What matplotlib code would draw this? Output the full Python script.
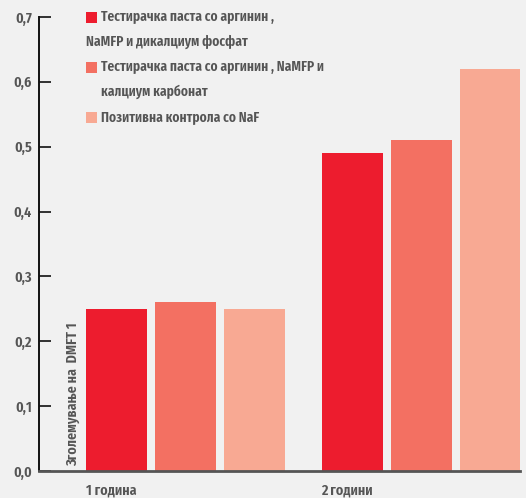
import matplotlib
matplotlib.use("Agg")
import matplotlib.pyplot as plt
from matplotlib.patches import Rectangle
import matplotlib.transforms as mtransforms
import numpy as np

categories = ["1 година", "2 години"]
series_labels = [
    "Тестирачка паста со аргинин ,\nNaMFP и дикалциум фосфат",
    "Тестирачка паста со аргинин , NaMFP и\nкалциум карбонат",
    "Позитивна контрола со NaF",
]
values = [
    [0.25, 0.49],
    [0.26, 0.51],
    [0.25, 0.62],
]
colors = ["#ED1C2E", "#F37062", "#F8A993"]
yticks = [0.0, 0.1, 0.2, 0.3, 0.4, 0.5, 0.6, 0.7]
ytick_labels = ["0,0", "0,1", "0,2", "0,3", "0,4", "0,5", "0,6", "0,7"]
ylabel = "Зголемување на  DMFT 1"

bg = "#F1F1F1"
tc = "#555555"
FONT = dict(family=["Fira Sans Extra Condensed", "DejaVu Sans"], weight=600)
FS = 11
LFS = 10.5

fig = plt.figure(figsize=(5.26, 4.98), dpi=100, facecolor=bg)
ax = fig.add_axes([39/526, 1-471/498, (520-39)/526, (471-17)/498])
ax.set_facecolor(bg)

x = np.arange(len(categories))
width = 61/235.5
step = 69/235.5
for i, (vals, c) in enumerate(zip(values, colors)):
    ax.bar(x + (i-1)*step, vals, width=width, color=c, zorder=2)

ax.set_xlim(-(185.5-39)/235.5, (520-185.5)/235.5)
ax.set_ylim(0, 0.7)
ax.set_yticks(yticks)
ax.set_yticklabels(ytick_labels, color=tc, fontsize=FS, **FONT)
ax.tick_params(axis="y", direction="in", length=8.5, width=1.3, color="#222222", pad=5)
ax.set_xticks([])
for s in ["top", "right"]:
    ax.spines[s].set_visible(False)
ax.spines["left"].set_color("#111111")
ax.spines["left"].set_linewidth(1.4)
ax.spines["bottom"].set_color("#555555")
ax.spines["bottom"].set_linewidth(2)
ax.spines["bottom"].set_zorder(3)

trans = mtransforms.blended_transform_factory(ax.transData, fig.transFigure)
for xi, cat in zip(x, categories):
    ax.text(xi - step - width/2, 1-490/498, cat, transform=trans, ha="left", va="center",
            color=tc, fontsize=FS, **FONT)

ax.text(73/526, 1-466/498, ylabel, transform=fig.transFigure, rotation=90,
        ha="center", va="bottom", color=tc, fontsize=FS, **FONT)

lx, tx = 86/526, 101/526
lines_y = [17, 42, 67, 92, 117]
row = 0
for lab, c in zip(series_labels, colors):
    parts = lab.split("\n")
    y0 = lines_y[row]
    fig.patches.append(Rectangle((lx, 1-(y0+6)/498), 11/526, 11/498, transform=fig.transFigure,
                                 facecolor=c, edgecolor="none", figure=fig))
    for j, p in enumerate(parts):
        yy = lines_y[row]
        xx = tx if (j == 0 or row == 3) else lx
        fig.text(xx, 1-yy/498, p, ha="left", va="center", color=tc, fontsize=LFS, **FONT)
        row += 1

fig.savefig("out.png", dpi=100, facecolor=bg)
